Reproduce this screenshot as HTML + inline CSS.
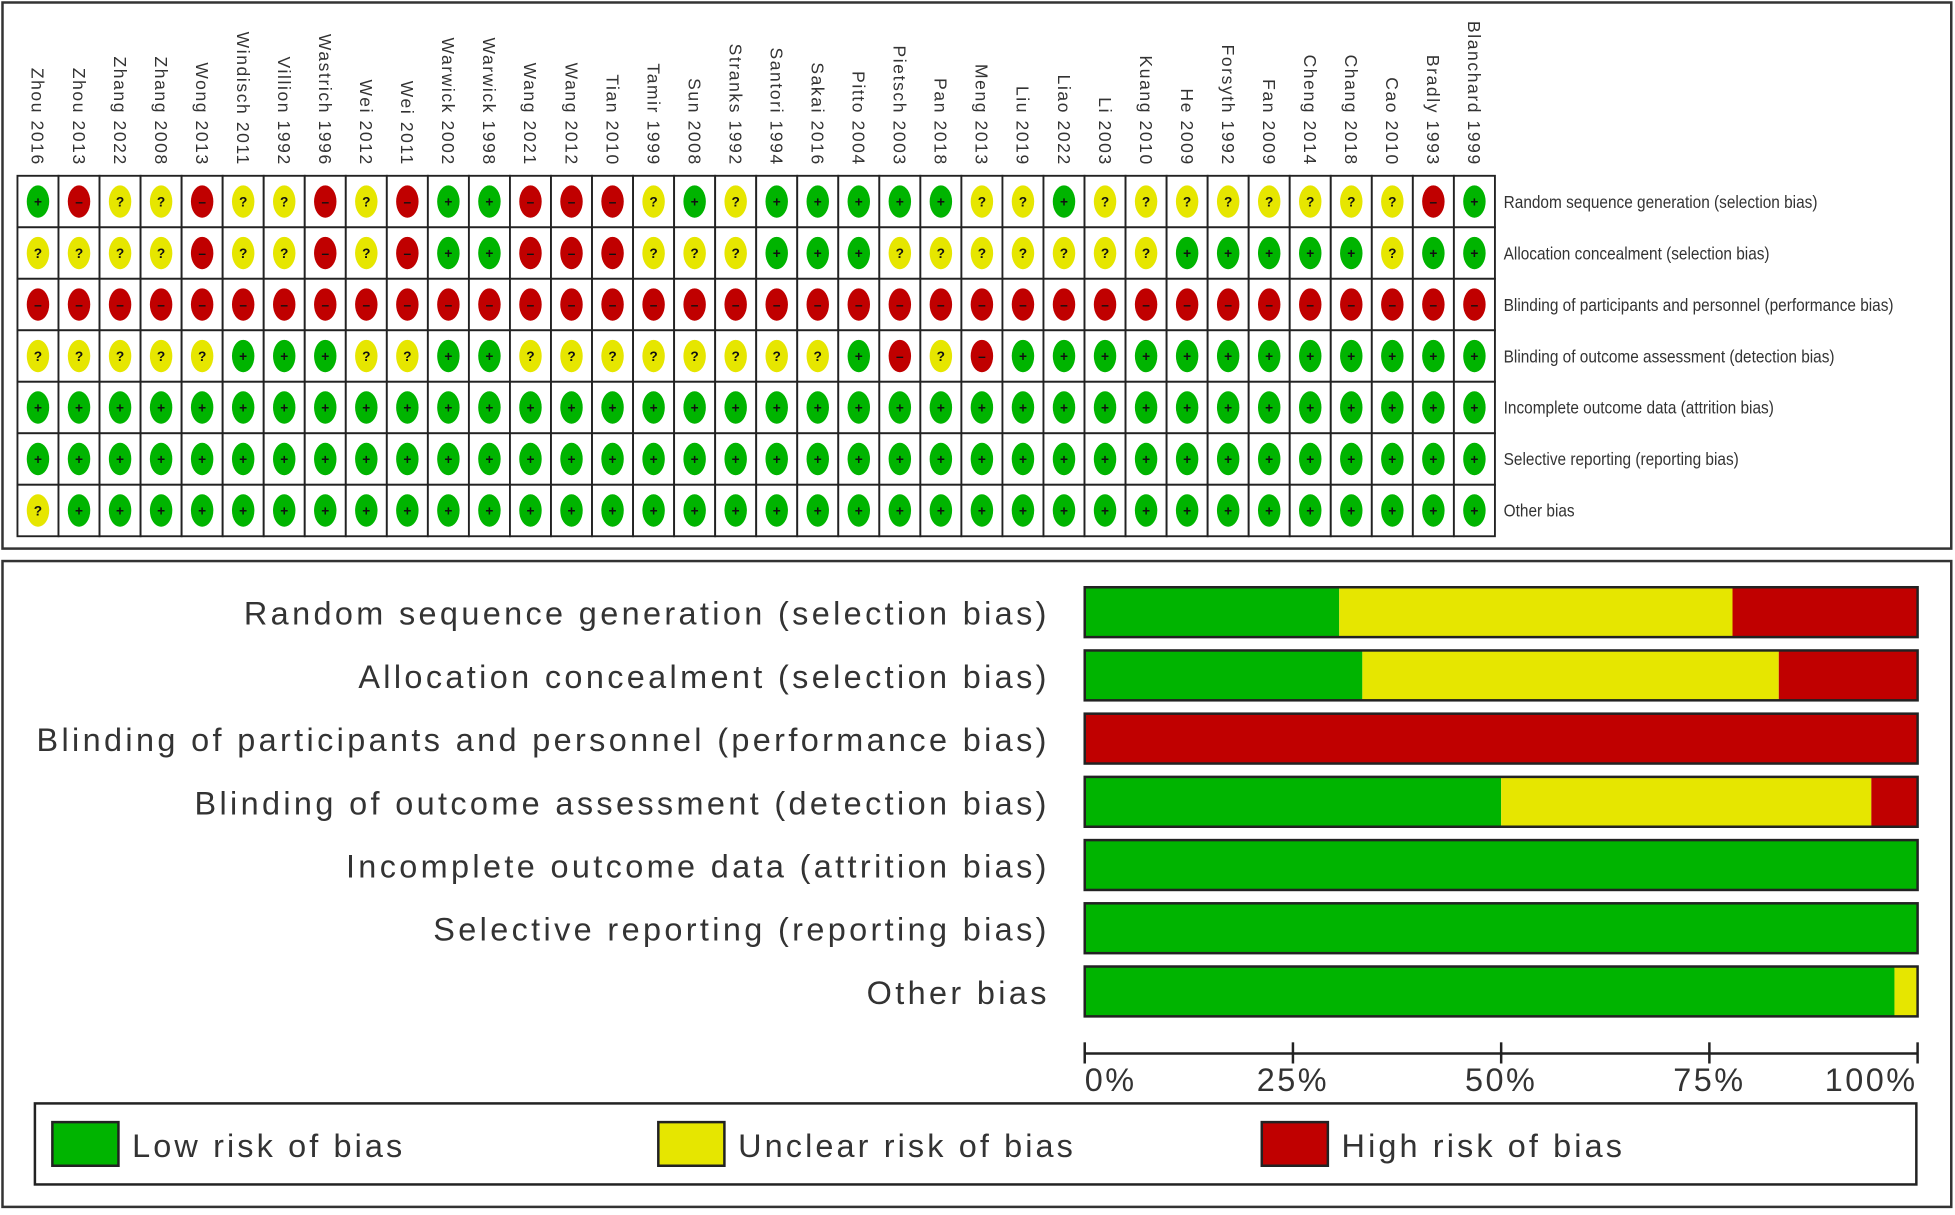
<!DOCTYPE html>
<html><head><meta charset="utf-8"><style>
body{margin:0;background:#fff;font-family:"Liberation Sans",sans-serif;}
svg{display:block}
</style></head><body>
<svg id="c" width="1955" height="1215" viewBox="0 0 1568 974.5" preserveAspectRatio="none" xmlns="http://www.w3.org/2000/svg">
<rect x="2" y="2" width="1563" height="438" fill="#fff" stroke="#333" stroke-width="2"/>
<rect x="2" y="450" width="1563" height="518" fill="#fff" stroke="#333" stroke-width="2"/>
<g id="grid"></g><g id="bars"></g><g id="axis"></g>
<g>
<rect x="28" y="885" width="1509" height="65" fill="#fff" stroke="#222" stroke-width="2"/>
<rect x="42" y="900" width="53" height="35" fill="#00b400" stroke="#222" stroke-width="2"/>
<text x="106" y="928" font-size="26" fill="#333" letter-spacing="2.5">Low risk of bias</text>
<rect x="528" y="900" width="53" height="35" fill="#e6e600" stroke="#222" stroke-width="2"/>
<text x="592" y="928" font-size="26" fill="#333" letter-spacing="2.5">Unclear risk of bias</text>
<rect x="1012" y="900" width="53" height="35" fill="#c00000" stroke="#222" stroke-width="2"/>
<text x="1076" y="928" font-size="26" fill="#333" letter-spacing="2.5">High risk of bias</text>
</g>
</svg>
<script>
const studies=["Zhou 2016","Zhou 2013","Zhang 2022","Zhang 2008","Wong 2013","Windisch 2011","Villion 1992","Wastrich 1996","Wei 2012","Wei 2011","Warwick 2002","Warwick 1998","Wang 2021","Wang 2012","Tian 2010","Tamir 1999","Sun 2008","Stranks 1992","Santori 1994","Sakai 2016","Pitto 2004","Pietsch 2003","Pan 2018","Meng 2013","Liu 2019","Liao 2022","Li 2003","Kuang 2010","He 2009","Forsyth 1992","Fan 2009","Cheng 2014","Chang 2018","Cao 2010","Bradly 1993","Blanchard 1999"];
const domains=["Random sequence generation (selection bias)","Allocation concealment (selection bias)","Blinding of participants and personnel (performance bias)","Blinding of outcome assessment (detection bias)","Incomplete outcome data (attrition bias)","Selective reporting (reporting bias)","Other bias"];
const judgements=[
"GRYYRYYRYRGGRRRYGYGGGGGYYGYYYYYYYYRG",
"YYYYRYYRYRGGRRRYYYGGGYYYYYYYGGGGGYGG",
"RRRRRRRRRRRRRRRRRRRRRRRRRRRRRRRRRRRR",
"YYYYYGGGYYGGYYYYYYYYGRYRGGGGGGGGGGGG",
"GGGGGGGGGGGGGGGGGGGGGGGGGGGGGGGGGGGG",
"GGGGGGGGGGGGGGGGGGGGGGGGGGGGGGGGGGGG",
"YGGGGGGGGGGGGGGGGGGGGGGGGGGGGGGGGGGG"];
const tickLabels=["0%","25%","50%","75%","100%"];
const ns="http://www.w3.org/2000/svg";
const col={G:"#00b400",Y:"#e6e600",R:"#c00000"};
const sym={G:"+",Y:"?",R:"–"};
function mk(t,a,p){const e=document.createElementNS(ns,t);for(const k in a)e.setAttribute(k,a[k]);p.appendChild(e);return e;}
const gx0=14,gx1=1199,gy0=141,rowH=41.3,cw=(gx1-gx0)/studies.length;
const grid=document.getElementById('grid');
studies.forEach((s,i)=>{const x=gx0+cw*(i+0.5);
 const t=mk('text',{x:0,y:0,'font-size':14,fill:'#333','letter-spacing':'1.3',transform:`translate(${x-5},${133}) rotate(90)`,'text-anchor':'end'},grid);
 
 
 t.textContent=s;});
domains.forEach((d,r)=>{const y=gy0+rowH*r;
 const t=mk('text',{x:0,y:0,'font-size':13,fill:'#333',transform:`translate(1206,${y+rowH/2+5}) scale(0.95,1.1)`},grid);
 
 
 t.textContent=d;
 studies.forEach((s,i)=>{const x=gx0+cw*i;const j=judgements[r][i];
  const c=mk('rect',{x:x,y:y,width:cw,height:rowH,fill:'#fff',stroke:'#222','stroke-width':1.5},grid);
  
  
  const e=mk('ellipse',{cx:x+cw/2,cy:y+rowH/2,rx:9,ry:13,fill:col[j]},grid);
  
  
  const tt=mk('text',{x:x+cw/2,y:y+rowH/2+4,'font-size':11,'font-weight':'bold','text-anchor':'middle',fill:'#111'},grid);
  
  
  tt.textContent=sym[j];});
});
const bx0=870,bx1=1538,xs=v=>bx0+(bx1-bx0)*v;
const bars=document.getElementById('bars');
domains.forEach((d,r)=>{const cy=491+50.7*r,row=judgements[r],n=row.length;
 const cnt={G:0,Y:0,R:0};for(const ch of row)cnt[ch]++;
 let acc=0;
 ["G","Y","R"].forEach(k=>{if(!cnt[k])return;const f=cnt[k]/n;
  const b=mk('rect',{x:xs(acc),y:cy-20,width:xs(acc+f)-xs(acc),height:40,fill:col[k]},bars);
  
  
  acc+=f;});
 const o=mk('rect',{x:bx0,y:cy-20,width:bx1-bx0,height:40,fill:'none',stroke:'#222','stroke-width':2},bars);
 
 
 const t=mk('text',{x:842,y:cy+10,'font-size':26,fill:'#333','text-anchor':'end','letter-spacing':'2.7'},bars);
 
 
 t.textContent=d;});
const ax=document.getElementById('axis');
const l=mk('line',{x1:bx0,x2:bx1,y1:845,y2:845,stroke:'#222','stroke-width':2},ax);


tickLabels.forEach((s,i)=>{const x=xs(i/(tickLabels.length-1));
 const tk=mk('line',{x1:x,x2:x,y1:836,y2:853,stroke:'#222','stroke-width':2},ax);
 
 
 const t=mk('text',{x:x,y:875,'font-size':26,fill:'#333','text-anchor':i==0?'start':(i==4?'end':'middle'),'letter-spacing':'2'},ax);
 
 
 t.textContent=s;});
</script>
</body></html>
